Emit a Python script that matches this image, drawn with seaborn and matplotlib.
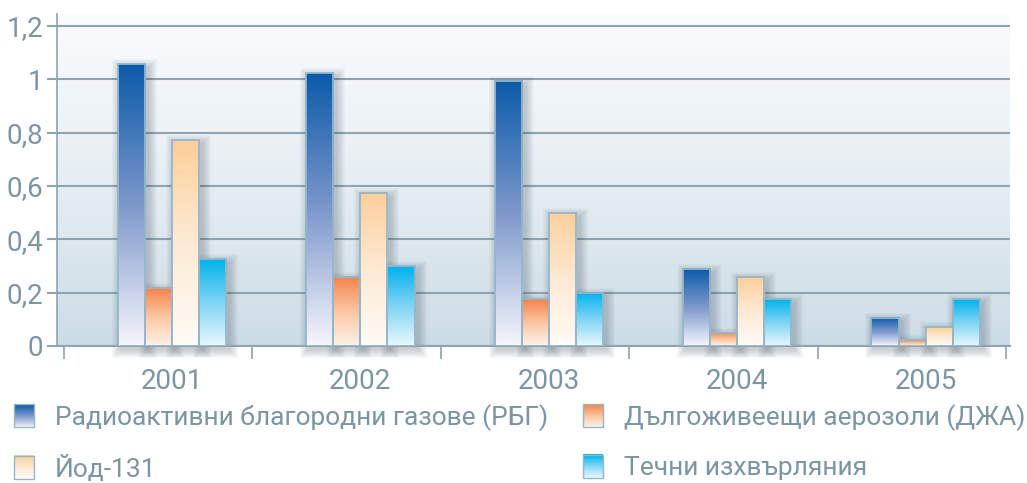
import numpy as np
import pandas as pd
import seaborn as sns
import matplotlib.pyplot as plt
from matplotlib.patches import Rectangle, Patch
from matplotlib.colors import LinearSegmentedColormap
from matplotlib.legend_handler import HandlerBase

# data
years = ["2001", "2002", "2003", "2004", "2005"]
series = ["Радиоактивни благородни газове (РБГ)",
          "Дългоживеещи аерозоли (ДЖА)",
          "Йод-131",
          "Течни изхвърляния"]
rbg = [1.056, 1.022, 0.994, 0.289, 0.106]
dja = [0.219, 0.26, 0.176, 0.05, 0.021]
iod = [0.772, 0.574, 0.50, 0.258, 0.07]
liquid = [0.325, 0.30, 0.20, 0.176, 0.176]
ytick_vals = [0, 0.2, 0.4, 0.6, 0.8, 1.0, 1.2]
ytick_labels = ["0", "0,2", "0,4", "0,6", "0,8", "1", "1,2"]

# gradient colours (top -> bottom) per series
grads = {
    series[0]: ["#0a5aa9", "#7d98cc", "#f6f6fc"],
    series[1]: ["#f5824a", "#fbc6a2", "#fdf3ea"],
    series[2]: ["#fdcf9b", "#feead4", "#fffbf6"],
    series[3]: ["#00b2ec", "#7fd5f4", "#eaf8fd"],
}
text_col = "#7b95a4"
grid_col = "#8fa3b1"
edge_col = "#95b6c8"

df = pd.DataFrame({
    "year": np.repeat(years, 4),
    "series": series * len(years),
    "value": [v for row in zip(rbg, dja, iod, liquid) for v in row],
})

sns.set_style("white")
plt.rcParams["font.family"] = ["Roboto", "DejaVu Sans"]

fig = plt.figure(figsize=(10.27, 4.83), dpi=100)
ax = fig.add_axes([57 / 1027, 1 - 346 / 483, 953 / 1027, 332 / 483])

sns.barplot(data=df, x="year", y="value", hue="series", hue_order=series,
            width=0.575, gap=0, saturation=1, legend=False, ax=ax, zorder=3)

xpx = 1 / 188.4   # data units per pixel
ypx = 1 / 266.7

# axes background gradient
bg = LinearSegmentedColormap.from_list("bg", ["#ccdce6", "#e6eef3", "#fbfcfe"])
ax.imshow(np.linspace(0, 1, 256).reshape(-1, 1), cmap=bg, origin="lower",
          extent=[0, 1, 0, 1], transform=ax.transAxes, aspect="auto", zorder=0)

for name, cont in zip(series, ax.containers):
    cmap = LinearSegmentedColormap.from_list(name, grads[name][::-1])
    for bar in cont:
        x, w, h = bar.get_x(), bar.get_width(), bar.get_height()
        # soft shadow
        for k in range(1, 10):
            ax.add_patch(Rectangle((x - k * xpx + 3 * xpx, -(k + 3) * ypx),
                                   w + 2 * k * xpx, h + (2 * k - 1) * ypx,
                                   facecolor="#3e4e5a", edgecolor="none",
                                   alpha=0.03, zorder=2, clip_on=False))
        ax.imshow(np.linspace(0, 1, 256).reshape(-1, 1), cmap=cmap, origin="lower",
                  extent=[x, x + w, 0, h], aspect="auto", zorder=2.6)
        bar.set_facecolor("none")
        bar.set_edgecolor(edge_col)
        bar.set_linewidth(1.3)

ax.set_xlim(-0.61, 4.448)
ax.set_ylim(0, 1.245)
ax.set_aspect("auto")

ax.set_yticks(ytick_vals)
ax.set_yticklabels(ytick_labels)
ax.grid(axis="y", color=grid_col, linewidth=1.5)
for gl in ax.get_ygridlines():
    gl.set_zorder(1)
ax.tick_params(axis="y", direction="out", length=7, width=1.5, color=grid_col,
               labelsize=20, labelcolor=text_col, pad=3, left=True)

ax.set_xticks(range(len(years)))
ax.set_xticklabels(years)
ax.set_xticks([k - 0.573 for k in range(len(years) + 1)], minor=True)
ax.tick_params(axis="x", which="major", length=0, labelsize=20,
               labelcolor=text_col, pad=16)
ax.tick_params(axis="x", which="minor", direction="out", length=9, width=1.2,
               color=grid_col, bottom=True)
ax.set_xlabel("")
ax.set_ylabel("")

for side in ["top", "right"]:
    ax.spines[side].set_visible(False)
ax.spines["left"].set_color(grid_col)
ax.spines["left"].set_linewidth(1.2)
ax.spines["bottom"].set_color(grid_col)
ax.spines["bottom"].set_linewidth(1.5)


class GradHandler(HandlerBase):
    def create_artists(self, legend, orig_handle, xdescent, ydescent,
                       width, height, fontsize, trans):
        cmap = LinearSegmentedColormap.from_list("h", orig_handle.colors[::-1])
        n = 24
        arts = []
        for i in range(n):
            arts.append(Rectangle((-xdescent, -ydescent + height * i / n), width,
                                  height / n + 0.3, facecolor=cmap(i / (n - 1)),
                                  edgecolor="none", transform=trans))
        arts.append(Rectangle((-xdescent, -ydescent), width, height,
                              facecolor="none", edgecolor=edge_col, lw=1.0,
                              transform=trans))
        return arts


handles = []
for name in series:
    p = Patch(label=name)
    p.colors = grads[name]
    handles.append(p)
order = [0, 2, 1, 3]
leg = fig.legend([handles[i] for i in order], [series[i] for i in order],
                 handler_map={Patch: GradHandler()}, ncol=2,
                 loc="upper left", bbox_to_anchor=(14 / 1027, 1 - 404 / 483),
                 frameon=False, fontsize=19, handlelength=0.76, handleheight=0.98,
                 handletextpad=0.8, columnspacing=1.3, labelspacing=0.9,
                 borderaxespad=0, borderpad=0)
for t in leg.get_texts():
    t.set_color(text_col)

fig.savefig("out.png", dpi=100, facecolor="white")
